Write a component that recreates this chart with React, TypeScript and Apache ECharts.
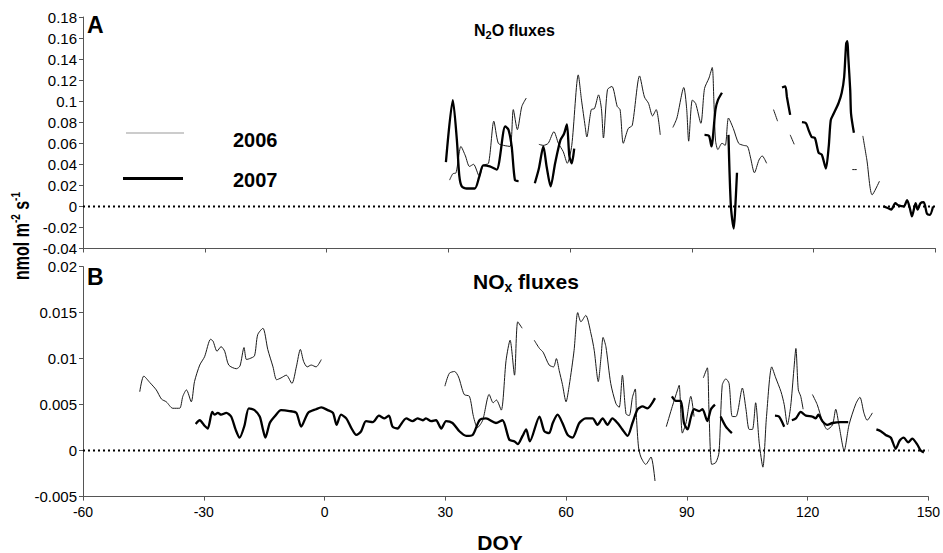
import React, { useEffect, useRef } from "react";
import * as echarts from "echarts";

// ---------- axes ----------
const xMin = -60;
const xMax = 150;
const xStep = 30;
const n2oMin = -0.04;
const n2oMax = 0.18;
const n2oStep = 0.02;
const noxMin = -0.005;
const noxMax = 0.02;
const noxStep = 0.005;
const zeroLine = [
  [-60, 0],
  [150, 0],
];

// ---------- Panel A: N2O fluxes (segments of [DOY, flux]) ----------
const n2o2006 = [
  [[30.3, 0.025], [31.1, 0.031], [31.9, 0.032], [33.1, 0.057], [34.2, 0.048], [35.2, 0.038], [36.2, 0.04], [37.6, 0.029], [38.6, 0.039], [39.9, 0.041], [41.2, 0.081], [42.3, 0.06], [43.6, 0.058], [45.2, 0.057], [46.0, 0.092], [47.0, 0.073], [48.1, 0.095], [49.2, 0.103]],
  [[52.3, 0.059], [53.4, 0.058], [54.6, 0.06], [56.0, 0.071], [57.1, 0.06], [58.3, 0.052], [59.3, 0.041], [60.4, 0.058], [62.0, 0.125], [62.8, 0.101], [63.7, 0.076], [64.1, 0.066], [65.2, 0.092], [66.0, 0.093], [67.0, 0.106], [67.7, 0.093], [68.2, 0.065], [69.2, 0.111], [70.3, 0.114], [71.6, 0.095], [72.3, 0.092], [73.1, 0.06], [74.3, 0.074], [75.3, 0.077], [77.1, 0.124], [78.3, 0.104], [79.3, 0.098], [80.3, 0.086], [81.2, 0.092], [82.2, 0.068]],
  [[85.3, 0.075], [86.3, 0.084], [88.0, 0.113], [88.7, 0.093], [89.2, 0.062], [90.1, 0.101], [90.9, 0.098], [92.2, 0.079], [93.1, 0.112], [94.2, 0.122], [95.0, 0.132], [95.4, 0.101], [95.8, 0.063], [96.4, 0.054], [97.4, 0.06], [98.2, 0.058], [99.0, 0.084], [100.2, 0.074], [101.5, 0.06], [102.7, 0.058], [103.7, 0.057], [104.4, 0.047], [105.4, 0.032], [106.5, 0.044], [107.3, 0.048], [108.4, 0.041]],
  [[110.1, 0.092], [111.1, 0.081]],
  [[114.2, 0.068], [115.2, 0.059]],
  [[129.5, 0.035], [130.6, 0.035]],
  [[132.1, 0.067], [133.1, 0.044], [134.4, 0.011], [136.2, 0.024]],
];

const n2o2007 = [
  [[29.4, 0.042], [31.1, 0.101], [32.1, 0.063], [32.7, 0.029], [33.3, 0.019], [34.5, 0.017], [36.5, 0.017], [37.6, 0.028], [38.6, 0.039], [40.2, 0.038], [41.9, 0.035], [44.0, 0.076], [44.8, 0.073], [45.6, 0.057], [46.4, 0.025], [47.3, 0.024]],
  [[51.3, 0.022], [52.3, 0.036], [53.4, 0.057], [54.2, 0.038], [55.2, 0.019], [56.3, 0.041], [57.6, 0.063], [58.5, 0.069], [59.2, 0.078], [59.8, 0.048], [60.4, 0.041], [61.0, 0.055]],
  [[93.1, 0.068], [94.2, 0.067], [94.8, 0.057], [95.8, 0.092], [96.4, 0.101], [97.4, 0.108]],
  [[99.0, 0.068], [99.6, 0.0], [100.3, -0.021], [100.6, -0.007], [101.1, 0.032]],
  [[112.2, 0.113], [113.0, 0.114], [113.4, 0.104], [114.2, 0.087]],
  [[117.1, 0.08], [118.1, 0.079], [118.7, 0.073], [119.5, 0.066], [120.3, 0.065], [121.2, 0.051], [122.0, 0.049], [123.0, 0.036], [123.7, 0.057], [124.2, 0.082], [124.9, 0.088], [126.1, 0.098], [126.9, 0.108], [127.5, 0.123], [128.0, 0.155], [128.3, 0.157], [128.5, 0.143], [129.0, 0.11], [129.2, 0.088], [129.9, 0.07]],
  [[137.2, 0.0], [138.5, -0.002], [139.1, -0.003], [140.1, 0.003], [140.9, 0.001], [142.2, 0.0], [143.0, 0.006], [143.7, -0.002], [144.2, -0.0095], [145.1, 0.003], [145.6, -0.003], [146.3, 0.003], [147.1, 0.004], [147.9, -0.007], [148.6, -0.008], [149.4, 0.0]],
];

// ---------- Panel B: NOx fluxes ----------
const nox2006 = [
  [[-45.9, 0.0064], [-44.9, 0.0081], [-43.4, 0.0074], [-41.8, 0.0066], [-40.5, 0.0056], [-39.3, 0.0053], [-37.7, 0.0046], [-36.0, 0.0046], [-35.2, 0.0059], [-34.3, 0.0066], [-33.1, 0.0053], [-32.3, 0.0075], [-31.0, 0.0093], [-29.8, 0.0102], [-28.3, 0.0121], [-27.7, 0.0119], [-26.7, 0.0108], [-25.7, 0.0113], [-24.8, 0.0108], [-23.8, 0.0093], [-21.9, 0.0089], [-21.0, 0.0092], [-20.0, 0.0112], [-19.4, 0.0099], [-18.6, 0.01], [-17.4, 0.0103], [-16.6, 0.0126], [-15.3, 0.0133], [-14.1, 0.011], [-12.8, 0.0091], [-11.9, 0.0077], [-10.8, 0.0079], [-9.5, 0.0082], [-8.1, 0.0073], [-7.0, 0.0091], [-6.0, 0.011], [-5.2, 0.0097], [-4.3, 0.0091], [-3.3, 0.0093], [-2.1, 0.0091], [-0.8, 0.0099]],
  [[29.9, 0.007], [31.0, 0.0084], [32.3, 0.0086], [33.3, 0.008], [34.7, 0.0061], [36.0, 0.0059], [37.0, 0.0037], [38.0, 0.0025], [39.3, 0.0033], [40.9, 0.0061], [41.9, 0.0052], [42.7, 0.0055], [43.9, 0.0044], [45.1, 0.0098], [46.1, 0.012], [47.2, 0.0082], [48.0, 0.014], [49.1, 0.0133]],
  [[52.1, 0.012], [53.4, 0.0111], [54.3, 0.0107], [55.8, 0.0093], [56.9, 0.0091], [57.6, 0.01], [58.3, 0.0087], [59.1, 0.0072], [60.0, 0.0053], [60.8, 0.0071], [62.0, 0.0109], [62.9, 0.015], [63.7, 0.014], [64.9, 0.0147], [66.2, 0.0127], [67.0, 0.0109], [68.0, 0.0075], [68.7, 0.0102], [69.2, 0.0123], [69.9, 0.0113], [71.1, 0.0073], [72.4, 0.0051], [73.2, 0.0047], [74.0, 0.0082], [74.9, 0.004], [75.7, 0.0038], [76.5, 0.0058], [77.2, 0.0067], [77.5, 0.0036], [78.0, 0.0004], [78.6, -0.0007], [79.8, -0.0015], [81.1, -0.0007], [82.1, -0.0033]],
  [[84.9, 0.0026], [86.4, 0.0048], [87.7, 0.0066], [88.1, 0.0071], [88.9, 0.0019], [89.8, 0.003], [91.0, 0.0059], [91.8, 0.0037]],
  [[94.1, 0.0079], [95.1, 0.009], [95.5, 0.0045], [96.2, -0.0015], [97.2, -0.0013], [98.0, -0.0002], [98.8, 0.0071], [99.7, 0.0078], [100.5, 0.0073], [101.3, 0.0037], [102.2, 0.0037], [103.8, 0.0068], [104.7, 0.0045], [105.5, 0.0023], [106.3, 0.0023], [107.1, 0.0052], [108.0, 0.0008], [108.9, -0.0018], [109.8, 0.0037], [111.1, 0.0091], [112.1, 0.0079], [113.4, 0.0064], [114.2, 0.005], [115.0, 0.0028], [115.8, 0.0048], [116.6, 0.0088], [117.1, 0.0111], [117.7, 0.0066], [118.3, 0.0059], [118.9, 0.0045]],
  [[121.2, 0.0061], [122.4, 0.005], [123.7, 0.0032], [124.9, 0.0023], [126.2, 0.0028], [127.0, 0.0045], [127.8, 0.0028], [129.1, 0.0], [130.3, 0.0028], [132.0, 0.0051], [133.0, 0.0058], [134.0, 0.0041], [134.8, 0.0033], [136.1, 0.0041]],
];

const nox2007 = [
  [[-32.0, 0.0029], [-31.0, 0.0033], [-29.8, 0.0027], [-29.0, 0.0024], [-27.9, 0.0042], [-27.3, 0.0039], [-26.5, 0.0041], [-25.7, 0.0039], [-24.4, 0.0041], [-23.2, 0.0037], [-22.1, 0.0023], [-21.1, 0.0014], [-19.9, 0.0027], [-18.8, 0.0046], [-17.4, 0.0044], [-16.1, 0.0037], [-15.3, 0.0023], [-14.7, 0.0014], [-13.6, 0.003], [-12.4, 0.0037], [-10.8, 0.0044], [-8.7, 0.0043], [-7.0, 0.0041], [-5.8, 0.0026], [-4.1, 0.0041], [-2.1, 0.0045], [-0.8, 0.0047], [0.8, 0.0044], [2.1, 0.0041], [3.0, 0.0028], [4.1, 0.0039], [5.4, 0.0035], [6.6, 0.0025], [7.9, 0.0017], [9.1, 0.0021], [10.3, 0.0032], [12.0, 0.0031], [13.5, 0.0038], [14.9, 0.0035], [16.0, 0.0038], [16.9, 0.0026], [18.2, 0.0024], [18.6, 0.0026], [20.3, 0.0035], [21.9, 0.0032], [23.1, 0.0035], [24.4, 0.0033], [25.2, 0.0035], [26.5, 0.0032], [27.7, 0.0033], [29.0, 0.0024], [30.2, 0.0032], [31.8, 0.003], [33.5, 0.0021], [35.2, 0.0016], [36.8, 0.0017], [38.5, 0.0033], [40.1, 0.0035], [42.6, 0.003], [44.2, 0.0033], [45.9, 0.0012], [47.2, 0.001], [48.0, 0.0007], [49.2, 0.0016], [50.1, 0.0023], [51.0, 0.001], [53.4, 0.0037], [54.6, 0.0021], [55.8, 0.0019], [56.7, 0.003], [57.9, 0.0039], [59.1, 0.003], [60.4, 0.0017], [61.6, 0.0014], [63.3, 0.003], [64.9, 0.0035], [66.6, 0.0035], [67.8, 0.0028], [69.1, 0.0035], [70.3, 0.0028], [71.5, 0.0035], [72.8, 0.003], [74.0, 0.0023], [75.3, 0.0016], [76.5, 0.003], [77.8, 0.0045], [79.0, 0.0048], [80.2, 0.0046], [82.1, 0.0057]],
  [[86.3, 0.0059], [87.3, 0.0054], [88.5, 0.0054], [89.3, 0.003], [90.2, 0.0023], [91.0, 0.0036], [91.8, 0.0045], [93.1, 0.0043], [93.9, 0.0045], [95.1, 0.0032], [96.0, 0.0045], [97.0, 0.005]],
  [[98.4, 0.0037], [99.7, 0.0026], [101.2, 0.0019]],
  [[111.9, 0.0038], [112.9, 0.0037], [114.2, 0.0026]],
  [[116.1, 0.0033], [117.1, 0.0035], [118.3, 0.0042], [119.6, 0.0038], [121.2, 0.0037], [122.0, 0.0035], [122.7, 0.0039], [123.7, 0.0032], [124.9, 0.0028], [126.2, 0.003], [128.2, 0.0031], [130.1, 0.0031]],
  [[137.1, 0.0023], [138.2, 0.0021], [139.4, 0.0017], [140.7, 0.0014], [141.9, 0.0002], [142.9, 0.0011], [143.9, 0.0014], [145.0, 0.0009], [146.0, 0.0013], [147.2, 0.0007], [148.1, 0.0], [148.9, -0.0002]],
];

const FONT = "'Liberation Sans', Arial, Helvetica, sans-serif";

function fmt(v: number) {
  return String(parseFloat(v.toFixed(4)));
}

export default function App() {
  const ref = useRef<HTMLDivElement>(null);

  useEffect(() => {
    document.body.style.margin = "0";
    if (!ref.current) return;
    const chart = echarts.init(ref.current, null, { renderer: "svg" });

    const axisLine = { show: true, onZero: false, lineStyle: { color: "#555", width: 1 } };
    const axisTick = { show: true, length: 4, lineStyle: { color: "#555", width: 1 } };

    const mkSeries = (segs: number[][][], idx: number, thick: boolean) =>
      segs.map((seg) => ({
        type: "line",
        xAxisIndex: idx,
        yAxisIndex: idx,
        data: seg,
        showSymbol: false,
        symbol: "none",
        smooth: 0.25,
        silent: true,
        z: thick ? 3 : 2,
        lineStyle: { width: thick ? 2.3 : 1, color: thick ? "#000" : "#1a1a1a" },
      }));

    const zero = (idx: number) => ({
      type: "line",
      xAxisIndex: idx,
      yAxisIndex: idx,
      data: zeroLine,
      showSymbol: false,
      symbol: "none",
      silent: true,
      z: 1,
      lineStyle: { width: 2, color: "#000", type: [2, 3] },
    });

    chart.setOption({
      animation: false,
      backgroundColor: "#fff",
      textStyle: { fontFamily: FONT },
      grid: [
        { left: 83, top: 17, right: 7.5, height: 231.5 },
        { left: 83, top: 266.6, right: 13.7, height: 230 },
      ],
      xAxis: [
        {
          type: "value", gridIndex: 0, min: xMin, max: xMax, interval: xStep,
          axisLine, axisTick, splitLine: { show: false }, axisLabel: { show: false },
        },
        {
          type: "value", gridIndex: 1, min: xMin, max: xMax, interval: xStep,
          axisLine, axisTick, splitLine: { show: false },
          axisLabel: { color: "#000", fontSize: 14, fontFamily: FONT, margin: 8 },
        },
      ],
      yAxis: [
        {
          type: "value", gridIndex: 0, min: n2oMin, max: n2oMax, interval: n2oStep,
          axisLine, axisTick, splitLine: { show: false },
          axisLabel: { color: "#000", fontSize: 15, fontFamily: FONT, margin: 6, formatter: fmt },
        },
        {
          type: "value", gridIndex: 1, min: noxMin, max: noxMax, interval: noxStep,
          axisLine, axisTick, splitLine: { show: false },
          axisLabel: { color: "#000", fontSize: 15, fontFamily: FONT, margin: 6, formatter: fmt },
        },
      ],
      series: [
        zero(0),
        zero(1),
        ...mkSeries(n2o2006, 0, false),
        ...mkSeries(n2o2007, 0, true),
        ...mkSeries(nox2006, 1, false),
        ...mkSeries(nox2007, 1, true),
      ],
      graphic: [
        { type: "text", x: 87, y: 13, style: { text: "A", font: `bold 23px ${FONT}`, fill: "#000" } },
        { type: "text", x: 87, y: 265, style: { text: "B", font: `bold 23px ${FONT}`, fill: "#000" } },
        {
          type: "text", x: 474, y: 20,
          style: {
            text: "{a|N}{s|2}{a|O fluxes}",
            fill: "#000",
            rich: {
              a: { fontSize: 16, fontWeight: "bold", fontFamily: FONT, lineHeight: 20 },
              s: { fontSize: 11, fontWeight: "bold", fontFamily: FONT, verticalAlign: "bottom", lineHeight: 11 },
            },
          },
        },
        {
          type: "text", x: 473, y: 268,
          style: {
            text: "{a|NO}{s|x}{a| fluxes}",
            fill: "#000",
            rich: {
              a: { fontSize: 21, fontWeight: "bold", fontFamily: FONT, lineHeight: 26 },
              s: { fontSize: 14, fontWeight: "bold", fontFamily: FONT, verticalAlign: "bottom", lineHeight: 14 },
            },
          },
        },
        {
          type: "text", x: 22, y: 236, rotation: Math.PI / 2, scaleY: 1.35,
          style: {
            text: "{a|nmol m}{s|-2}{a| s}{s|-1}",
            fill: "#000",
            align: "center",
            verticalAlign: "middle",
            rich: {
              a: { fontSize: 16, fontWeight: "bold", fontFamily: FONT, lineHeight: 20 },
              s: { fontSize: 10, fontWeight: "bold", fontFamily: FONT, verticalAlign: "top", lineHeight: 10 },
            },
          },
        },
        {
          type: "text", x: 500, y: 542,
          style: { text: "DOY", font: `bold 21px ${FONT}`, fill: "#000", align: "center", verticalAlign: "middle" },
        },
        // legend
        { type: "line", shape: { x1: 126, y1: 133, x2: 184, y2: 133 }, style: { stroke: "#999", lineWidth: 1 } },
        { type: "line", shape: { x1: 123, y1: 178.5, x2: 183, y2: 178.5 }, style: { stroke: "#000", lineWidth: 3 } },
        {
          type: "text", x: 233, y: 140,
          style: { text: "2006", font: `bold 20px ${FONT}`, fill: "#000", verticalAlign: "middle" },
        },
        {
          type: "text", x: 233, y: 180,
          style: { text: "2007", font: `bold 20px ${FONT}`, fill: "#000", verticalAlign: "middle" },
        },
      ],
    });

    return () => chart.dispose();
  }, []);

  return <div ref={ref} style={{ width: 943, height: 553 }} />;
}
